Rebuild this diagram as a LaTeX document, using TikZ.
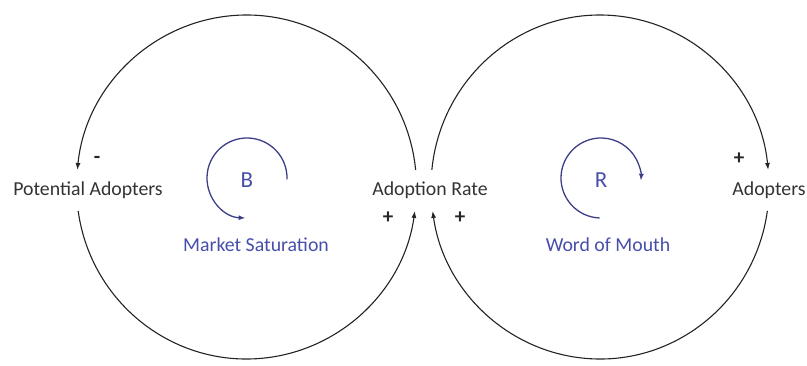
\documentclass[tikz,border=0pt]{standalone}
\usepackage{fontspec}
\setmainfont{Carlito}
\usetikzlibrary{arrows.meta,calc}
\definecolor{looptext}{RGB}{70,78,170}
\definecolor{looparc}{RGB}{60,62,135}
\definecolor{linkcol}{RGB}{35,35,35}
\tikzset{
  lbl/.style={font=\fontsize{19.8}{24}\selectfont, text=black!80, inner sep=0pt, anchor=base},
  looplbl/.style={font=\fontsize{19.8}{24}\selectfont, text=looptext, inner sep=0pt, anchor=base},
  loopid/.style={font=\fontsize{23}{27}\selectfont, text=looptext, inner sep=0pt, anchor=base},
  sgn/.style={font=\fontsize{21}{25}\selectfont\bfseries, text=black!85, inner sep=0pt},
  link/.style={draw=linkcol, line width=1.1pt, -{Latex[length=7pt,width=5pt]}},
  looparrow/.style={draw=looparc, line width=1.3pt, -{Latex[length=7pt,width=5pt]}}
}
\begin{document}
\begin{tikzpicture}[x=1pt,y=1pt]
\useasboundingbox (0,0) rectangle (807,365);
% variables
\node[lbl] (pa) at (88,170) {Potential Adopters};
\node[lbl] (ar) at (430,170) {Adoption Rate};
\node[lbl] (ad) at (769,170) {Adopters};
% ellipse centres
\coordinate (cL) at (246.5,178);
\coordinate (cR) at (600,178);
% end points on the loops
\coordinate (arTL) at ($(cL)+(5.7:170 and 172)$);
\coordinate (paB) at ($(cL)+(188:170 and 172)$);
\coordinate (arTR) at ($(cR)+(174.3:169 and 172)$);
\coordinate (adB) at ($(cR)+(-8:169 and 172)$);
% links
\draw[link] (arTL) arc[start angle=5.7, end angle=174.3, x radius=170, y radius=172];
\draw[link] (paB) arc[start angle=188, end angle=352, x radius=170, y radius=172];
\draw[link] (arTR) arc[start angle=174.3, end angle=5.7, x radius=169, y radius=172];
\draw[link] (adB) arc[start angle=-8, end angle=-172, x radius=169, y radius=172];
% polarities
\node[sgn] (s1) at (97,205) {-};
\node[sgn] (s2) at (388,147) {+};
\node[sgn] (s3) at (460,147) {+};
\node[sgn] (s4) at (739,206) {+};
% loop identifiers
\coordinate (lB) at (247,187);
\coordinate (lR) at (601,187);
\coordinate (lBs) at ($(lB)+(-2:40)$);
\coordinate (lRs) at ($(lR)+(268:40)$);
\draw[looparrow] (lBs) arc[start angle=-2, end angle=268, radius=40];
\draw[looparrow] (lRs) arc[start angle=268, end angle=-4, radius=40];
\node[loopid] (B) at (247,178) {B};
\node[loopid] (R) at (601,178) {R};
\node[looplbl] (ms) at (256,114) {Market Saturation};
\node[looplbl] (wm) at (608,114) {Word of Mouth};
\end{tikzpicture}
\end{document}
